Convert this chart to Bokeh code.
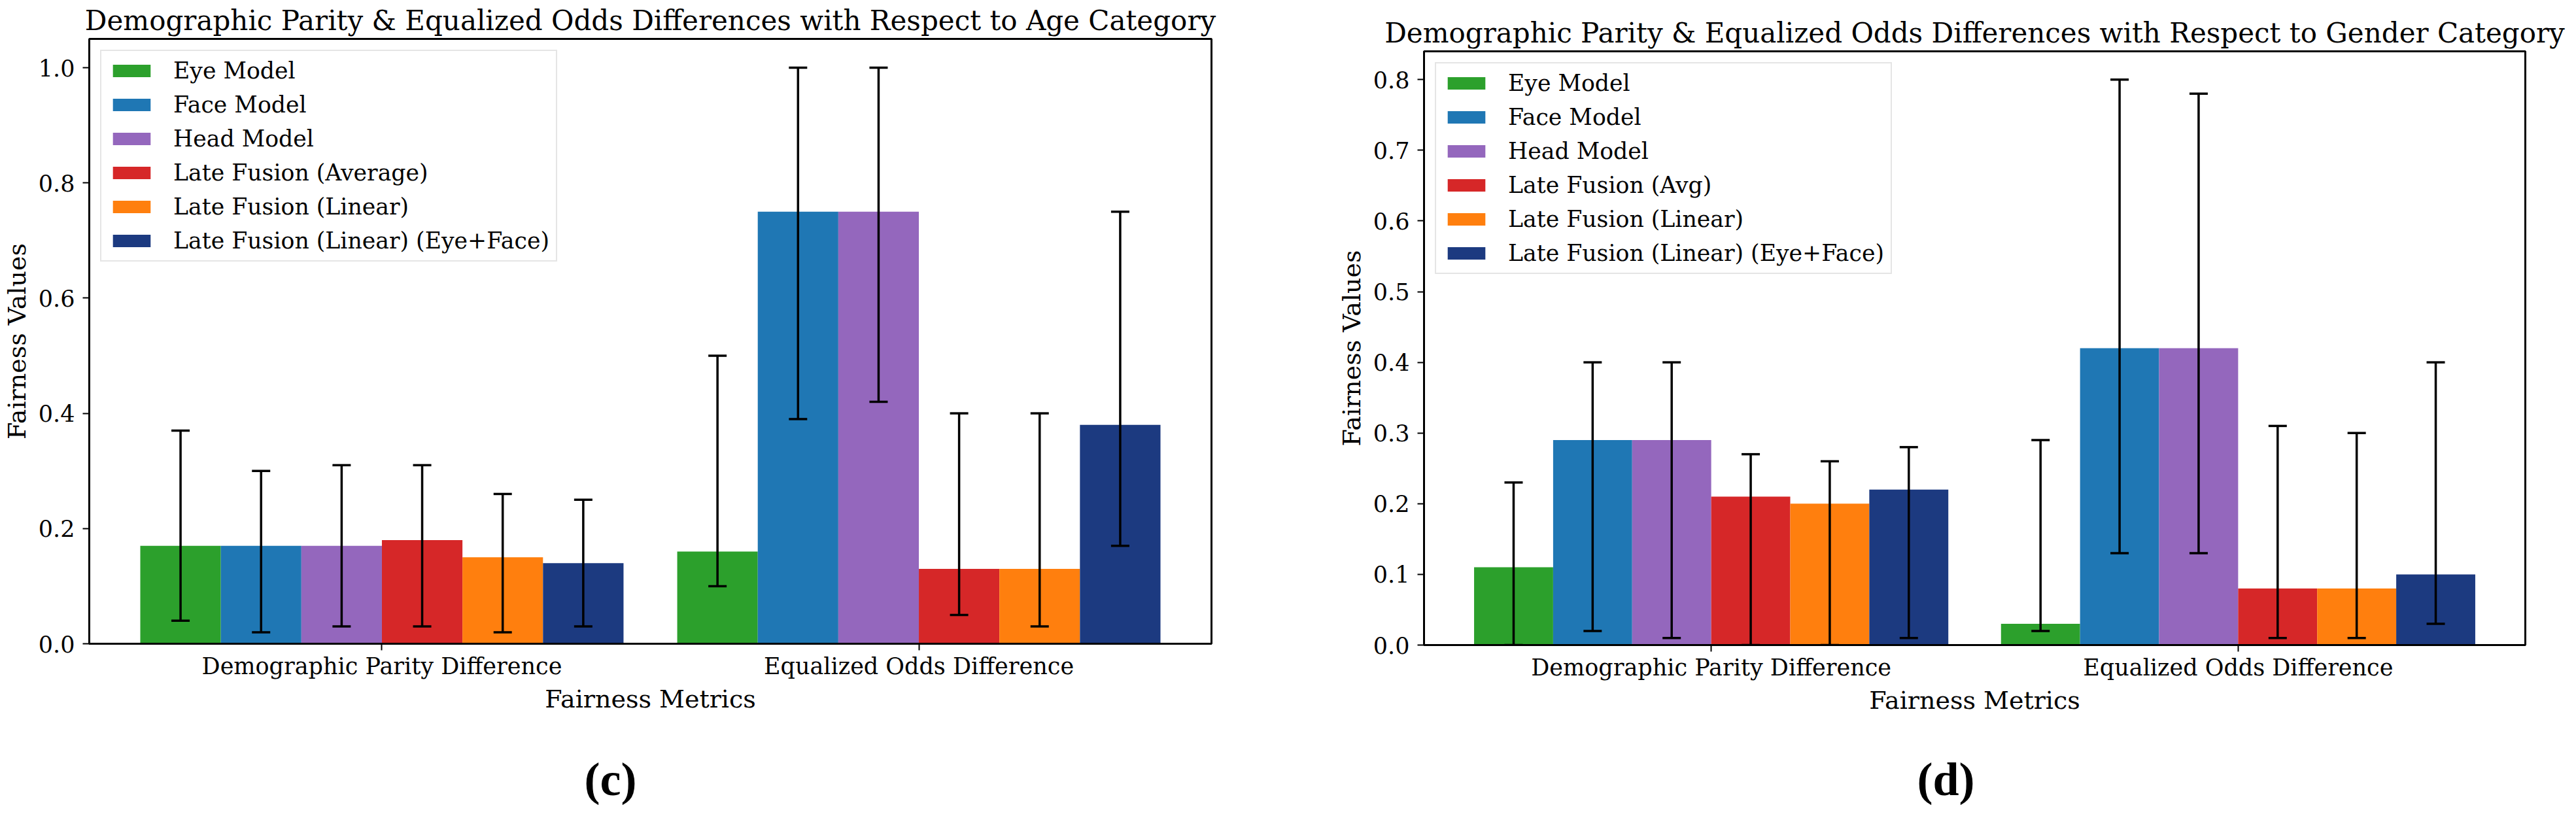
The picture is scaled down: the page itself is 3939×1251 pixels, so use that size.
from bokeh.plotting import figure
from bokeh.models import (ColumnDataSource, Whisker, TeeHead, FixedTicker, Range1d,
                          Legend, LegendItem, PrintfTickFormatter)
from bokeh.core.properties import value
from bokeh.layouts import row, column
from bokeh.embed import file_html
from bokeh.resources import INLINE

metrics = ["Demographic Parity Difference", "Equalized Odds Difference"]
models_age = ["Eye Model", "Face Model", "Head Model", "Late Fusion (Average)",
              "Late Fusion (Linear)", "Late Fusion (Linear) (Eye+Face)"]
models_gender = ["Eye Model", "Face Model", "Head Model", "Late Fusion (Avg)",
                 "Late Fusion (Linear)", "Late Fusion (Linear) (Eye+Face)"]
colors = ["#2ca02c", "#1f77b4", "#9467bd", "#d62728", "#ff7f0e", "#1c3a80"]

# Age category: value, lower and upper bound per model
age_dpd = [0.17, 0.17, 0.17, 0.18, 0.15, 0.14]
age_dpd_lo = [0.04, 0.02, 0.03, 0.03, 0.02, 0.03]
age_dpd_hi = [0.37, 0.30, 0.31, 0.31, 0.26, 0.25]
age_eod = [0.16, 0.75, 0.75, 0.13, 0.13, 0.38]
age_eod_lo = [0.10, 0.39, 0.42, 0.05, 0.03, 0.17]
age_eod_hi = [0.50, 1.00, 1.00, 0.40, 0.40, 0.75]

# Gender category
gender_dpd = [0.11, 0.29, 0.29, 0.21, 0.20, 0.22]
gender_dpd_lo = [0.00, 0.02, 0.01, 0.00, 0.00, 0.01]
gender_dpd_hi = [0.23, 0.40, 0.40, 0.27, 0.26, 0.28]
gender_eod = [0.03, 0.42, 0.42, 0.08, 0.08, 0.10]
gender_eod_lo = [0.02, 0.13, 0.13, 0.01, 0.01, 0.03]
gender_eod_hi = [0.29, 0.80, 0.78, 0.31, 0.30, 0.40]

age_ticks = [0.0, 0.2, 0.4, 0.6, 0.8, 1.0]
gender_ticks = [0.0, 0.1, 0.2, 0.3, 0.4, 0.5, 0.6, 0.7, 0.8]

captions = ["(c)", "(d)"]

BAR_W = 0.15
SERIF = "DejaVu Serif"
FS = "35px"
LFS = "38px"


def make_panel(title, models, dpd, dpd_lo, dpd_hi, eod, eod_lo, eod_hi,
               yticks, ymax, frame_w, frame_h, b_left, b_right, b_top, b_bottom):
    p = figure(frame_width=frame_w, frame_height=frame_h,
               min_border_left=b_left, min_border_right=b_right,
               min_border_top=b_top, min_border_bottom=b_bottom,
               x_range=Range1d(-0.545, 1.545), y_range=Range1d(0, ymax),
               output_backend="svg", toolbar_location=None, tools="")
    p.title.text = title
    p.title.align = "center"
    p.title.text_font = SERIF
    p.title.text_font_size = "42px"
    p.title.text_font_style = "normal"
    p.title.text_color = "black"
    p.title.standoff = 7

    items = []
    for i, m in enumerate(models):
        xs = [g + (i - 2.5) * BAR_W for g in range(len(metrics))]
        vals = [dpd[i], eod[i]]
        lo = [dpd_lo[i], eod_lo[i]]
        hi = [dpd_hi[i], eod_hi[i]]
        src = ColumnDataSource(dict(x=xs, top=vals, lower=lo, upper=hi))
        r = p.vbar(x="x", top="top", width=BAR_W, bottom=0, source=src,
                   fill_color=colors[i], line_color=None)
        items.append(LegendItem(label=m, renderers=[r]))
        w = Whisker(source=src, base="x", lower="lower", upper="upper",
                    dimension="height", line_color="black", line_width=3.5,
                    level="overlay",
                    upper_head=TeeHead(size=28, line_width=3.5, line_color="black"),
                    lower_head=TeeHead(size=28, line_width=3.5, line_color="black"))
        p.add_layout(w)

    legend = Legend(items=items, location="top_left")
    legend.margin = 17
    legend.padding = 10
    legend.spacing = 12
    legend.glyph_width = 72
    legend.glyph_height = 24
    legend.label_standoff = 28
    legend.label_text_font = SERIF
    legend.label_text_font_size = "34.7px"
    legend.label_text_color = "black"
    legend.border_line_color = "#cccccc"
    legend.border_line_width = 2
    legend.background_fill_alpha = 0.8
    p.add_layout(legend, "center")

    p.xgrid.visible = False
    p.ygrid.visible = False

    p.xaxis.ticker = FixedTicker(ticks=list(range(len(metrics))))
    p.xaxis.major_label_overrides = {i: m for i, m in enumerate(metrics)}
    p.yaxis.ticker = FixedTicker(ticks=yticks)
    p.yaxis.formatter = PrintfTickFormatter(format="%.1f")
    for ax in (p.xaxis[0], p.yaxis[0]):
        ax.axis_line_color = "black"
        ax.axis_line_width = 3
        ax.major_tick_line_color = "black"
        ax.major_tick_line_width = 2
        ax.major_tick_out = 10
        ax.major_tick_in = 0
        ax.minor_tick_line_color = None
        ax.major_label_text_font = SERIF
        ax.major_label_text_font_size = FS
        ax.major_label_text_color = "black"
        ax.axis_label_text_font = SERIF
        ax.axis_label_text_font_size = LFS
        ax.axis_label_text_font_style = "normal"
        ax.axis_label_text_color = "black"
    p.xaxis.major_label_standoff = 4
    p.yaxis.major_label_standoff = 12
    p.xaxis.axis_label = "Fairness Metrics"
    p.yaxis.axis_label = "Fairness Values"
    p.xaxis.axis_label_standoff = 5
    p.yaxis.axis_label_standoff = 8

    p.outline_line_color = "black"
    p.outline_line_width = 3
    p.outline_line_alpha = 1.0
    return p


def make_caption(text, frame_w, height, b_left, b_right, cx, cy):
    c = figure(frame_width=frame_w, height=height,
               min_border_left=b_left, min_border_right=b_right,
               min_border_top=0, min_border_bottom=0,
               x_range=Range1d(0, frame_w), y_range=Range1d(0, height),
               output_backend="svg", toolbar_location=None, tools="")
    c.axis.visible = False
    c.grid.visible = False
    c.outline_line_color = None
    c.text(x=[cx], y=[cy], text=[text], text_align="center", text_baseline="middle",
           text_font=value("Liberation Serif"), text_font_style="bold",
           text_font_size="72px", text_color="black")
    return c


left = make_panel("Demographic Parity & Equalized Odds Differences with Respect to Age Category",
                  models_age, age_dpd, age_dpd_lo, age_dpd_hi, age_eod, age_eod_lo, age_eod_hi,
                  age_ticks, 1.05, 1716, 925, 130, 106, 59, 110)
right = make_panel("Demographic Parity & Equalized Odds Differences with Respect to Gender Category",
                   models_gender, gender_dpd, gender_dpd_lo, gender_dpd_hi, gender_eod,
                   gender_eod_lo, gender_eod_hi, gender_ticks, 0.84,
                   1684, 908, 219, 68, 78, 110)
cap_left = make_caption(captions[0], 1716, 141, 130, 106, 797, 44)
cap_right = make_caption(captions[1], 1684, 139, 219, 68, 798, 44)

layout = row(column(left, cap_left), column(right, cap_right))
open("out.html", "w").write(file_html(layout, INLINE))
